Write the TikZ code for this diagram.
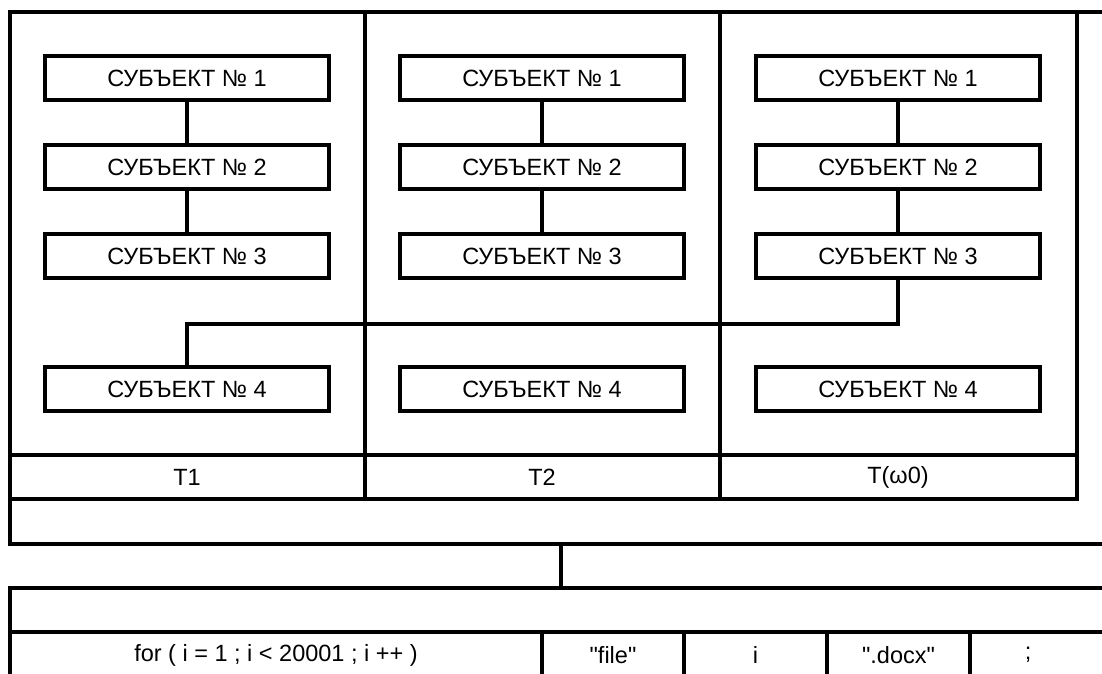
\documentclass[tikz,border=0pt]{standalone}
\usepackage{fontspec}
\setmainfont{Liberation Sans}[Ligatures=TeXOff]
\begin{document}
\begin{tikzpicture}[x=1pt,y=-1pt,
  line width=4pt,
  every node/.style={font=\fontsize{23.5}{28}\selectfont},
  subj/.style={draw, line width=4pt, minimum width=284pt, minimum height=44pt, inner sep=0pt},
  lbl/.style={inner sep=0pt},
  frame/.style={line width=4pt, line cap=rect},
  conn/.style={line width=4pt}]
\useasboundingbox (0,0) rectangle (1102,673);
% upper frame
\draw[frame] (1102,12) -- (10,12) -- (10,544) -- (1102,544);
\draw[frame] (10,455) -- (1077,455);
\draw[frame] (10,499) -- (1077,499);
\draw[frame] (365,12) -- (365,499);
\draw[frame] (720,12) -- (720,499);
\draw[frame] (1077,12) -- (1077,499);
% subject boxes
\foreach \c/\x in {1/187,2/542,3/898}{
  \node[subj] (c\c s1) at (\x,78)  {СУБЪЕКТ № 1};
  \node[subj] (c\c s2) at (\x,167) {СУБЪЕКТ № 2};
  \node[subj] (c\c s3) at (\x,256) {СУБЪЕКТ № 3};
  \node[subj] (c\c s4) at (\x,389) {СУБЪЕКТ № 4};
  \draw[conn] (c\c s1.south) -- (c\c s2.north);
  \draw[conn] (c\c s2.south) -- (c\c s3.north);
}
\draw[conn] (c3s3.south) -- ++(0,44) -| (c1s4.north);
% time labels
\node[lbl] (t1) at (187,477) {T1};
\node[lbl] (t2) at (542,477) {T2};
\node[lbl] (t3) at (898,477) {T(ω0)};
% link between frames
\coordinate (upbot) at (561,544);
\coordinate (lowtop) at (561,588);
\draw[conn] (upbot) -- (lowtop);
% lower frame
\draw[frame] (1102,588) -- (10,588) -- (10,680);
\draw[frame] (10,632) -- (1102,632);
\foreach \x in {542,684,827,970}{
  \draw[frame] (\x,632) -- (\x,680);
}
\node[lbl] (l1) at (276,655) {for ( i = 1 ; i < 20001 ; i ++ )};
\node[lbl] (l2) at (613,655) {"file"};
\node[lbl] (l3) at (755.5,655) {i};
\node[lbl] (l4) at (898.5,655) {".docx"};
\node[lbl] (l5) at (1028,655) {;};
\end{tikzpicture}
\end{document}
